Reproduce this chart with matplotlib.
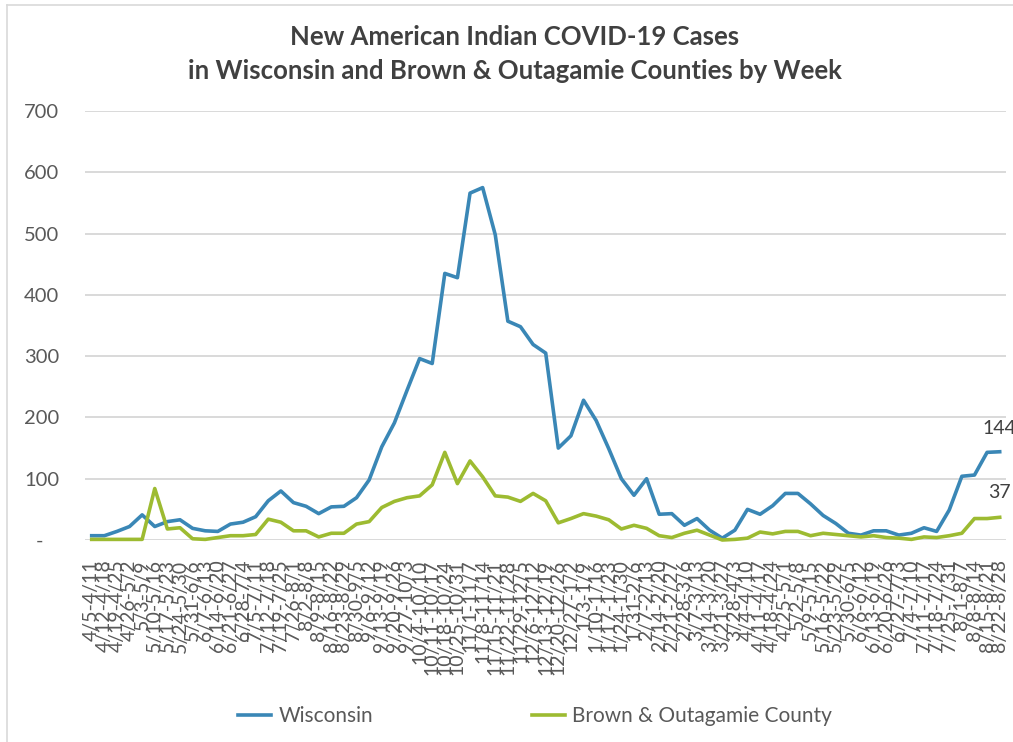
import matplotlib
matplotlib.use("Agg")
import matplotlib.pyplot as plt
from matplotlib.lines import Line2D

plt.rcParams['font.family'] = ['Lato', 'DejaVu Sans']

week_labels = [
    "4/5-4/11", "4/12-4/18", "4/19-4/25", "4/26-5/2", "5/3-5/9", "5/10-5/16",
    "5/17-5/23", "5/24-5/30", "5/31-6/6", "6/7-6/13", "6/14-6/20", "6/21-6/27",
    "6/28-7/4", "7/5-7/11", "7/12-7/18", "7/19-7/25", "7/26-8/1", "8/2-8/8",
    "8/9-8/15", "8/16-8/22", "8/23-8/29", "8/30-9/5", "9/6-9/12", "9/13-9/19",
    "9/20-9/26", "9/27-10/3", "10/4-10/10", "10/11-10/17", "10/18-10/24",
    "10/25-10/31", "11/1-11/7", "11/8-11/14", "11/15-11/21", "11/22-11/28",
    "11/29-12/5", "12/6-12/12", "12/13-12/19", "12/20-12/26", "12/27-1/2",
    "1/3-1/9", "1/10-1/16", "1/17-1/23", "1/24-1/30", "1/31-2/6", "2/7-2/13",
    "2/14-2/20", "2/21-2/27", "2/28-3/6", "3/7-3/13", "3/14-3/20", "3/21-3/27",
    "3/28-4/3", "4/4-4/10", "4/11-4/17", "4/18-4/24", "4/25-5/1", "5/2-5/8",
    "5/9-5/15", "5/16-5/22", "5/23-5/29", "5/30-6/5", "6/6-6/12", "6/13-6/19",
    "6/20-6/26", "6/27-7/3", "7/4-7/10", "7/11-7/17", "7/18-7/24", "7/25-7/31",
    "8/1-8/7", "8/8-8/14", "8/15-8/21", "8/22-8/28",
]

wisconsin = [
    7, 7, 14, 22, 41, 22, 30, 33, 19, 15, 14, 26, 29, 38, 64, 80, 61, 55,
    43, 54, 55, 69, 98, 152, 191, 244, 296, 288, 435, 428, 566, 575, 498,
    357, 348, 319, 305, 150, 170, 228, 195, 149, 100, 73, 100, 42, 43, 24,
    35, 16, 3, 16, 50, 42, 56, 76, 76, 59, 40, 27, 11, 8, 15, 15, 8, 11,
    20, 14, 49, 104, 106, 143, 144,
]

brown_outagamie = [
    1, 1, 1, 1, 1, 84, 18, 20, 2, 1, 4, 7, 7, 9, 34, 29, 15, 15, 5, 11, 11,
    26, 30, 53, 63, 69, 72, 90, 143, 92, 129, 103, 72, 70, 63, 76, 64, 28,
    35, 43, 39, 33, 18, 24, 19, 7, 4, 11, 16, 8, 0, 1, 3, 13, 10, 14, 14, 7,
    11, 9, 7, 5, 7, 4, 3, 1, 5, 4, 7, 11, 35, 35, 37,
]

y_ticks = [0, 100, 200, 300, 400, 500, 600, 700]
y_tick_labels = ["-   ", "100", "200", "300", "400", "500", "600", "700"]

blue = "#3a87b6"
green = "#9dbb31"
text_gray = "#595959"

W, H = 1013, 742
fig = plt.figure(figsize=(W / 100, H / 100), dpi=100)
fig.patch.set_facecolor("white")

# chart frame (top and left edges)
fig.add_artist(Line2D([7 / W, 7 / W], [0, 1 - 5 / H], transform=fig.transFigure,
                      color="#d9d9d9", lw=1.2))
fig.add_artist(Line2D([7 / W, 1], [1 - 5 / H, 1 - 5 / H], transform=fig.transFigure,
                      color="#d9d9d9", lw=1.2))

ax = fig.add_axes([85.4 / W, (H - 540) / H, (1006 - 85.4) / W, 429 / H])
x = list(range(len(week_labels)))

ax.plot(x, wisconsin, color=blue, lw=2.6, solid_joinstyle="round", clip_on=False,
        label="Wisconsin", zorder=3)
ax.plot(x, brown_outagamie, color=green, lw=2.6, solid_joinstyle="round", clip_on=False,
        label="Brown & Outagamie County", zorder=3)

ax.set_xlim(-0.5, len(week_labels) - 0.5)
ax.set_ylim(0, 700)
ax.set_yticks(y_ticks)
ax.set_yticklabels(y_tick_labels, fontsize=14.5, color=text_gray)
ax.set_xticks(x)
ax.set_xticklabels(week_labels, rotation=90, fontsize=14, color=text_gray,
                   ha="center", va="top")
ax.tick_params(axis="y", length=0, pad=19)
ax.tick_params(axis="x", length=0, pad=14)
ax.grid(axis="y", color="#d9d9d9", lw=1.4)
ax.set_axisbelow(True)
for s in ax.spines.values():
    s.set_visible(False)

# end-of-series value labels
ax.annotate(str(wisconsin[-1]), (x[-1], wisconsin[-1]), xytext=(0, 17),
            textcoords="offset points", ha="center", va="center",
            fontsize=14, color="#404040", annotation_clip=False)
ax.annotate(str(brown_outagamie[-1]), (x[-1], brown_outagamie[-1]), xytext=(0, 18),
            textcoords="offset points", ha="center", va="center",
            fontsize=14, color="#404040", annotation_clip=False)

fig.text(515 / W, 1 - 37 / H, "New American Indian COVID-19 Cases",
         ha="center", va="center", fontsize=18.5, fontweight="bold", color="#404040")
fig.text(515 / W, 1 - 71 / H, "in Wisconsin and Brown & Outagamie Counties by Week",
         ha="center", va="center", fontsize=18.5, fontweight="bold", color="#404040")

fig.legend(loc="center", bbox_to_anchor=(535 / W, 1 - 716 / H), ncol=2,
           frameon=False, fontsize=15, handlelength=1.6, handletextpad=0.35,
           columnspacing=7.6, labelcolor=text_gray)

fig.savefig("out.png", dpi=100, facecolor="white")
